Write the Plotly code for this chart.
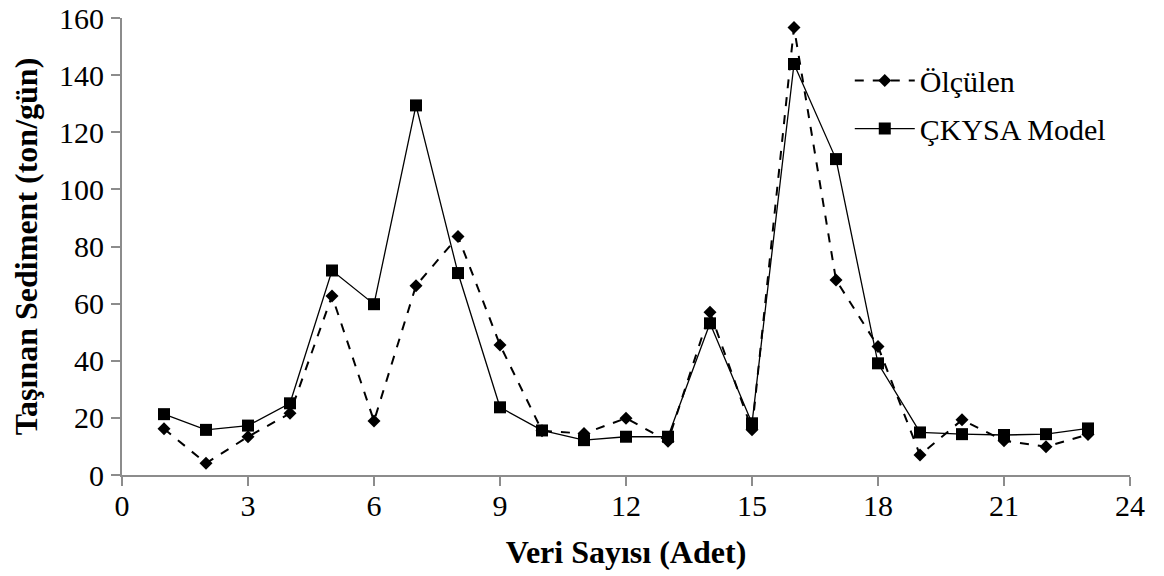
import plotly.graph_objects as go

x_vals = list(range(1, 24))
olculen = [16.2, 4.1, 13.4, 21.6, 62.7, 18.9, 66.3, 83.5, 45.5, 15.5, 14.5,
           19.9, 11.8, 57.0, 15.8, 156.7, 68.3, 45.0, 7.0, 19.3, 12.0, 9.9, 14.2]
model = [21.3, 15.8, 17.3, 25.1, 71.6, 59.8, 129.4, 70.7, 23.7, 15.6, 12.2,
         13.4, 13.4, 53.1, 18.1, 143.9, 110.6, 39.1, 14.9, 14.3, 14.0, 14.3, 16.3]
x_ticks = [0, 3, 6, 9, 12, 15, 18, 21, 24]
y_ticks = [0, 20, 40, 60, 80, 100, 120, 140, 160]

font_family = "Liberation Serif"

fig = go.Figure()
fig.add_trace(go.Scatter(
    x=x_vals, y=olculen, name="Ölçülen", mode="lines+markers", legendgroup="a",
    line=dict(color="black", width=2, dash="dash"),
    marker=dict(symbol="diamond", size=10, color="black"),
))
fig.add_trace(go.Scatter(
    x=x_vals, y=model, name="ÇKYSA Model", mode="lines+markers", legendgroup="b",
    line=dict(color="black", width=1.3),
    marker=dict(symbol="square", size=12, color="black"),
))

fig.update_layout(
    width=1164, height=576,
    paper_bgcolor="white", plot_bgcolor="white",
    margin=dict(l=122, r=34, t=18, b=101, autoexpand=False),
    font=dict(family=font_family, size=30, color="black"),
    showlegend=True,
    legend=dict(x=0.722, y=0.92, xanchor="left", yanchor="top",
                bgcolor="rgba(0,0,0,0)", font=dict(family=font_family, size=30),
                tracegroupgap=6, itemwidth=60),
    xaxis=dict(
        range=[0, 24], tickmode="array", tickvals=x_ticks,
        showgrid=False, zeroline=False, automargin=False,
        showline=True, linecolor="#8c8c8c", linewidth=2,
        ticks="outside", tickcolor="#8c8c8c", ticklen=9, tickwidth=2,
        tickfont=dict(family=font_family, size=30), ticklabelstandoff=-6,
        ticklabeloverflow="allow",
        title=dict(text="<b>Veri Sayısı (Adet)</b>", font=dict(family=font_family, size=32), standoff=20),
    ),
    yaxis=dict(
        range=[0, 160], tickmode="array", tickvals=y_ticks,
        showgrid=False, zeroline=False, automargin=False,
        showline=True, linecolor="#8c8c8c", linewidth=2,
        ticks="outside", tickcolor="#8c8c8c", ticklen=9, tickwidth=2,
        tickfont=dict(family=font_family, size=30), ticklabelstandoff=1,
        ticklabeloverflow="allow",
        title=dict(text="<b>Taşınan Sediment (ton/gün)</b>", font=dict(family=font_family, size=32), standoff=12),
    ),
)

fig.write_html("out.html", config={"displayModeBar": False},
               post_script="document.body.style.margin='0';")
